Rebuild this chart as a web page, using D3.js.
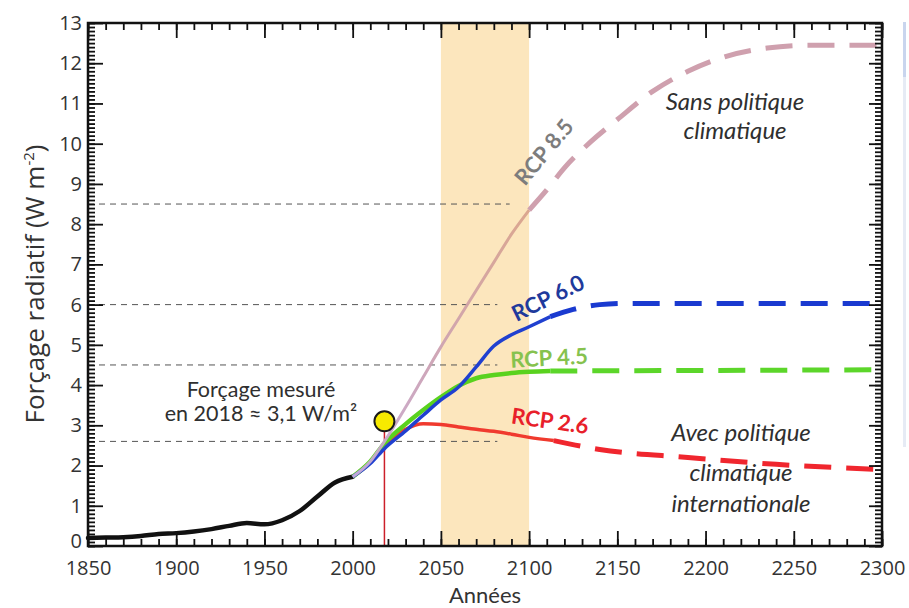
<!DOCTYPE html>
<html><head><meta charset="utf-8">
<script src="https://cdn.jsdelivr.net/npm/d3@7"></script>
<style>body{margin:0;background:#fff}svg{display:block}</style>
</head><body><svg id="c" width="909" height="608"></svg>
<script>
// ---------- data ----------
const histYears = [1850,1860,1870,1880,1890,1900,1910,1920,1930,1940,1950,1960,1970,1980,1990,2000];
const histValues = [0.2,0.21,0.22,0.25,0.3,0.32,0.36,0.42,0.5,0.57,0.54,0.64,0.87,1.23,1.58,1.72];

const rcp85SolidYears = [2000,2010,2018,2030,2040,2050,2060,2070,2080,2090,2100];
const rcp85SolidValues = [1.72,2.1,2.6,3.45,4.2,4.95,5.65,6.35,7.05,7.75,8.35];
const rcp85DashYears = [2100,2110,2120,2135,2150,2170,2190,2210,2235,2260,2300];
const rcp85DashValues = [8.35,8.85,9.4,10.05,10.6,11.3,11.8,12.15,12.38,12.45,12.45];

const rcp60SolidYears = [2000,2010,2018,2030,2040,2050,2060,2070,2080,2090,2100,2112];
const rcp60SolidValues = [1.72,2.05,2.42,2.86,3.25,3.63,3.95,4.45,4.97,5.25,5.45,5.7];
const rcp60DashYears = [2112,2125,2140,2155,2300];
const rcp60DashValues = [5.7,5.88,6.0,6.03,6.03];

const rcp45SolidYears = [2000,2010,2018,2030,2040,2050,2060,2070,2080,2090,2100,2112];
const rcp45SolidValues = [1.72,2.1,2.55,3.03,3.38,3.7,3.98,4.17,4.25,4.3,4.33,4.35];
const rcp45DashYears = [2112,2300];
const rcp45DashValues = [4.35,4.38];

const rcp26SolidYears = [2000,2010,2018,2030,2040,2050,2060,2070,2080,2090,2100,2114];
const rcp26SolidValues = [1.72,2.08,2.5,2.9,3.04,3.02,2.96,2.9,2.85,2.78,2.7,2.62];
const rcp26DashYears = [2114,2140,2190,2240,2300];
const rcp26DashValues = [2.62,2.4,2.2,2.03,1.9];

const refLevels = [8.5, 6.0, 4.5, 2.6];
const refEndYears = [2089, 2082, 2082, 2082];

const bandYears = [2050, 2100];
const measuredYear = 2018;
const measuredValue = 3.1;

const xTickValues = [1850,1900,1950,2000,2050,2100,2150,2200,2250,2300];
const yTickValues = [0,1,2,3,4,5,6,7,8,9,10,11,12,13];

// ---------- layout ----------
const svg = d3.select("#c");
const L = 88, R = 882, T = 23, B = 546;
const x = d3.scaleLinear().domain([1850, 2300]).range([L, R]);
const y = d3.scaleLinear().domain([0, 13]).range([B, T]);
const font = "'Open Sans', sans-serif";

// faint panel edge at right
svg.append("rect").attr("x", 903).attr("y", 22).attr("width", 3).attr("height", 425).attr("fill", "#e6ebf5");
svg.append("rect").attr("x", 903).attr("y", 22).attr("width", 3).attr("height", 55).attr("fill", "#c9d5ee");

// orange band
svg.append("rect")
  .attr("x", x(bandYears[0])).attr("y", T)
  .attr("width", x(bandYears[1]) - x(bandYears[0])).attr("height", B - T)
  .attr("fill", "#fce6bd");

// reference dashed lines
refLevels.forEach((v, i) => {
  svg.append("line")
    .attr("x1", L).attr("x2", x(refEndYears[i]))
    .attr("y1", y(v)).attr("y2", y(v))
    .attr("stroke", "#555").attr("stroke-width", 1).attr("stroke-dasharray", "6,5");
});

const line = d3.line().x(d => x(d[0])).y(d => y(d[1])).curve(d3.curveMonotoneX);
const zipped = (ys, vs) => ys.map((yr, i) => [yr, vs[i]]);

// gradient for rcp 8.5 solid
const defs = svg.append("defs");
const g85 = defs.append("linearGradient").attr("id", "g85").attr("gradientUnits", "userSpaceOnUse")
  .attr("x1", x(2000)).attr("x2", x(2100)).attr("y1", 0).attr("y2", 0);
g85.append("stop").attr("offset", 0).attr("stop-color", "#c6addb");
g85.append("stop").attr("offset", 0.4).attr("stop-color", "#cba2b8");
g85.append("stop").attr("offset", 1).attr("stop-color", "#d9a38c");

// vertical measured line
svg.append("line")
  .attr("x1", x(measuredYear)).attr("x2", x(measuredYear))
  .attr("y1", y(measuredValue)).attr("y2", B)
  .attr("stroke", "#cc1f2a").attr("stroke-width", 1.5);

// historical
svg.append("path").datum(zipped(histYears, histValues))
  .attr("d", line).attr("fill", "none").attr("stroke", "#111").attr("stroke-width", 4.5)
  .attr("stroke-linecap", "round");

const dash = "27,15";
// RCP 2.6
svg.append("path").datum(zipped(rcp26SolidYears, rcp26SolidValues)).attr("d", line)
  .attr("fill", "none").attr("stroke", "#f03a2e").attr("stroke-width", 3.5);
svg.append("path").datum(zipped(rcp26DashYears, rcp26DashValues)).attr("d", line)
  .attr("fill", "none").attr("stroke", "#f0262e").attr("stroke-width", 5).attr("stroke-dasharray", dash);
// RCP 4.5
svg.append("path").datum(zipped(rcp45SolidYears, rcp45SolidValues)).attr("d", line)
  .attr("fill", "none").attr("stroke", "#5ad21e").attr("stroke-width", 4.5);
svg.append("path").datum(zipped(rcp45DashYears, rcp45DashValues)).attr("d", line)
  .attr("fill", "none").attr("stroke", "#5cd62a").attr("stroke-width", 5).attr("stroke-dasharray", dash);
// RCP 6.0
svg.append("path").datum(zipped(rcp60SolidYears, rcp60SolidValues)).attr("d", line)
  .attr("fill", "none").attr("stroke", "#2040d0").attr("stroke-width", 3.5);
svg.append("path").datum(zipped(rcp60DashYears, rcp60DashValues)).attr("d", line)
  .attr("fill", "none").attr("stroke", "#1a3ad0").attr("stroke-width", 5).attr("stroke-dasharray", dash);
// RCP 8.5
svg.append("path").datum(zipped(rcp85SolidYears, rcp85SolidValues)).attr("d", line)
  .attr("fill", "none").attr("stroke", "url(#g85)").attr("stroke-width", 3).attr("opacity", 0.95);
svg.append("path").datum(zipped(rcp85DashYears, rcp85DashValues)).attr("d", line)
  .attr("fill", "none").attr("stroke", "#cfa0ae").attr("stroke-width", 5).attr("stroke-dasharray", dash);

// measured point
svg.append("circle").attr("cx", x(measuredYear)).attr("cy", y(measuredValue)).attr("r", 10)
  .attr("fill", "#f7ea00").attr("stroke", "#1a1a1a").attr("stroke-width", 2);

// ---------- axes ----------
function styleAxis(g) {
  g.select(".domain").remove();
  g.selectAll(".tick line").attr("stroke", "#111").attr("stroke-width", 1.8);
  g.selectAll("text").attr("font-family", font).attr("font-size", 20).attr("fill", "#333");
}
const minorX = d3.range(1850, 2301, 10);
const minorY = d3.range(0, 131).map(d => d / 10);

svg.append("g").attr("transform", `translate(0,${B})`)
  .call(d3.axisBottom(x).tickValues(minorX).tickSize(-7).tickFormat("")).call(styleAxis);
svg.append("g").attr("transform", `translate(0,${B})`)
  .call(d3.axisBottom(x).tickValues(xTickValues).tickSize(-15).tickPadding(15).tickFormat(d3.format("d")))
  .call(styleAxis);
svg.append("g").attr("transform", `translate(0,${T})`)
  .call(d3.axisTop(x).tickValues(minorX).tickSize(-7).tickFormat("")).call(styleAxis);
svg.append("g").attr("transform", `translate(0,${T})`)
  .call(d3.axisTop(x).tickValues(xTickValues).tickSize(-15).tickFormat("")).call(styleAxis);

svg.append("g").attr("transform", `translate(${L},0)`)
  .call(d3.axisLeft(y).tickValues(minorY).tickSize(-7).tickFormat("")).call(styleAxis);
const yAxisG = svg.append("g").attr("transform", `translate(${L},0)`)
  .call(d3.axisLeft(y).tickValues(yTickValues).tickSize(-15).tickPadding(6).tickFormat(d3.format("d")))
  .call(styleAxis);
// nudge the "0" label up slightly so it does not collide with "1850"
yAxisG.selectAll(".tick").filter(d => d === 0).select("text").attr("dy", "0.05em");
svg.append("g").attr("transform", `translate(${R},0)`)
  .call(d3.axisRight(y).tickValues(minorY).tickSize(-7).tickFormat("")).call(styleAxis);
svg.append("g").attr("transform", `translate(${R},0)`)
  .call(d3.axisRight(y).tickValues(yTickValues).tickSize(-13).tickFormat("")).call(styleAxis);

// frame
svg.append("rect").attr("x", L).attr("y", T).attr("width", R - L).attr("height", B - T)
  .attr("fill", "none").attr("stroke", "#111").attr("stroke-width", 2.5);

// axis titles
const yt = svg.append("text").attr("transform", `translate(44,284) rotate(-90)`)
  .attr("text-anchor", "middle").attr("font-family", font).attr("font-size", 26).attr("fill", "#333");
yt.append("tspan").text("Forçage radiatif (W m");
yt.append("tspan").attr("font-size", 15).attr("dy", -10).text("-2");
yt.append("tspan").attr("dy", 10).text(")");

svg.append("text").attr("x", 485).attr("y", 603).attr("text-anchor", "middle")
  .attr("font-family", "Lato, sans-serif").attr("font-size", 22).attr("fill", "#333").text("Années");

// annotations
const ann = (txt, ax, ay, opts = {}) => svg.append("text").attr("x", ax).attr("y", ay)
  .attr("text-anchor", "middle").attr("font-family", "Lato, sans-serif")
  .attr("font-size", opts.size || 20).attr("font-style", opts.italic ? "italic" : "normal")
  .attr("fill", opts.fill || "#2f2f2f").text(txt);

ann("Forçage mesuré", 261, 397, {size: 21.5});
ann("en 2018 ≈ 3,1 W/m²", 261, 421, {size: 21.5});
ann("Sans politique", 735, 110, {size: 24, italic: true});
ann("climatique", 735, 139, {size: 24, italic: true});
ann("Avec politique", 741, 441, {size: 24, italic: true});
ann("climatique", 741, 481, {size: 24, italic: true});
ann("internationale", 741, 512, {size: 24, italic: true});

// RCP labels
const rlabel = (txt, cx, cy, ang, col) => svg.append("text")
  .attr("transform", `translate(${cx},${cy}) rotate(${ang})`)
  .attr("text-anchor", "middle").attr("dy", "0.35em")
  .attr("font-family", "Lato, sans-serif").attr("font-weight", "bold").attr("font-size", 22)
  .attr("fill", col).text(txt);
rlabel("RCP 8.5", 544, 152, -50, "#7d7d7d");
rlabel("RCP 6.0", 548, 298, -26, "#1f3a9c");
rlabel("RCP 4.5", 549, 358, -3, "#86c24e");
rlabel("RCP 2.6", 550, 421, 8, "#e8202a");
</script></body></html>
